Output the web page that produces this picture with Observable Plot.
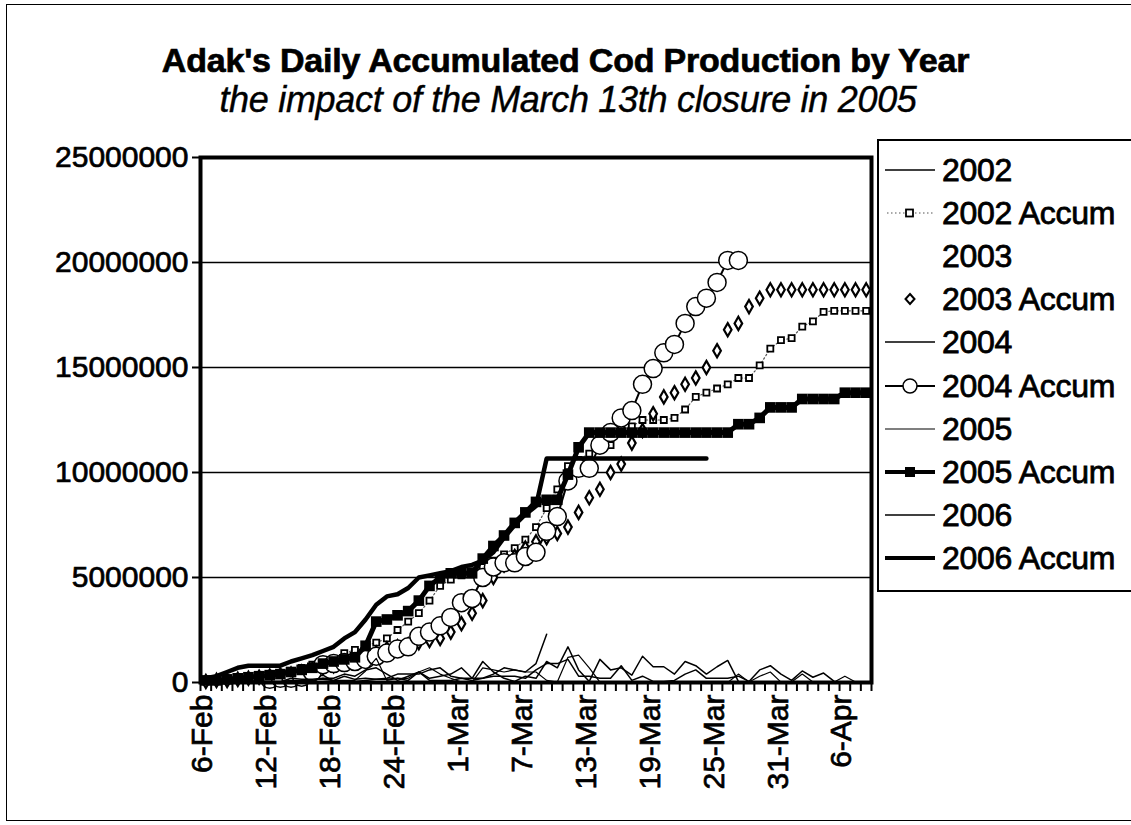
<!DOCTYPE html>
<html><head><meta charset="utf-8">
<script src="https://cdn.jsdelivr.net/npm/d3@7"></script>
<script src="https://cdn.jsdelivr.net/npm/@observablehq/plot@0.6"></script>
<style>
body{margin:0;background:#fff;font-family:"Liberation Sans",Arial,sans-serif;color:#000;}
#page{position:relative;width:1131px;height:825px;overflow:hidden;background:#fff;}
#border{position:absolute;left:6px;top:4px;width:1140px;height:817px;border:1.5px solid #000;box-sizing:border-box;pointer-events:none;}
#header{position:relative;height:140px;}
#title{position:absolute;left:0;width:1131px;top:40px;text-align:center;font-weight:bold;font-size:34px;line-height:40px;white-space:nowrap;-webkit-text-stroke:0.7px #000;letter-spacing:-0.2px;}
#subtitle{position:absolute;left:0;width:1136px;top:80px;text-align:center;font-style:italic;font-size:36px;line-height:40px;white-space:nowrap;-webkit-text-stroke:0.4px #000;letter-spacing:-0.3px;}
#chart svg{display:block;}
#chart svg text{stroke:#000;stroke-width:0.7px;}
#legend{position:absolute;left:877px;top:139px;width:270px;height:453px;border:2px solid #000;box-sizing:border-box;background:#fff;}
.item{position:absolute;left:0;height:40px;width:270px;}
.item svg{position:absolute;left:6px;top:10px;}
.item span{position:absolute;left:63px;top:0;font-size:32px;line-height:40px;white-space:nowrap;-webkit-text-stroke:0.8px #000;letter-spacing:-0.3px;}
</style>
</head><body>
<div id="page">
  <div id="header">
    <div id="title">Adak's Daily Accumulated Cod Production by Year</div>
    <div id="subtitle">the impact of the March 13th closure in 2005</div>
  </div>
  <div id="chart"></div>
  <div id="legend"></div>
  <div id="border"></div>
</div>
<script>
// Category labels (one category per day, 6-Feb ... 8-Apr); labels every 6 days
const xTickIndex = [0, 6, 12, 18, 24, 30, 36, 42, 48, 54, 60];
const xTickLabels = ["6-Feb","12-Feb","18-Feb","24-Feb","1-Mar","7-Mar","13-Mar","19-Mar","25-Mar","31-Mar","6-Apr"];
const nDays = 63;
const yTicks = [0, 5000000, 10000000, 15000000, 20000000, 25000000];
const gridValues = [5000000, 10000000, 15000000, 20000000];

// values in millions of pounds, index = day from 6-Feb
const acc2002 = [0.05,0.1,0.15,0.2,0.25,0.3,0.35,0.45,0.55,0.7,
 0.85,1.0,1.1,1.4,1.55,1.75,1.9,2.1,2.5,2.9,
 3.3,3.9,4.6,4.9,5.1,5.3,5.5,5.8,6.1,6.4,
 6.8,7.4,8.3,9.2,10.3,10.6,10.9,11.1,11.3,12.1,
 12.2,12.5,12.5,12.5,12.6,13.0,13.6,13.8,14.0,14.2,
 14.5,14.5,15.1,15.9,16.3,16.4,16.95,17.2,17.65,17.7,
 17.7,17.7,17.7];
const acc2003 = [0.05,0.1,0.1,0.15,0.2,0.25,0.3,0.35,0.4,0.5,
 0.6,0.7,0.8,0.9,1.0,1.2,1.4,1.6,1.7,1.8,
 1.9,2.0,2.1,2.4,2.8,3.3,3.9,5.0,5.6,6.0,
 6.4,6.7,6.9,7.1,7.4,8.1,8.8,9.2,10.0,10.4,
 11.4,12.0,12.8,13.6,13.8,14.2,14.5,15.0,15.8,16.8,
 17.1,17.9,18.3,18.7,18.7,18.7,18.7,18.7,18.7,18.7,
 18.7,18.7,18.7];
const acc2004 = [null,null,null,null,null,null,0.15,0.2,0.2,0.25,
 0.5,0.85,0.9,0.95,1.0,1.1,1.25,1.4,1.6,1.7,
 2.2,2.4,2.7,3.1,3.8,4.0,5.0,5.5,5.7,5.7,
 6.0,6.2,7.2,7.9,9.6,10.2,10.2,11.3,11.9,12.6,
 12.95,14.2,14.95,15.7,16.1,17.1,17.9,18.3,19.05,20.1,
 20.1];
const acc2005 = [0.1,0.1,0.15,0.2,0.25,0.3,0.35,0.4,0.5,0.6,
 0.7,0.9,1.0,1.1,1.2,1.75,2.9,3.0,3.2,3.4,
 3.9,4.6,5.0,5.2,5.2,5.2,5.9,6.5,7.0,7.6,
 8.1,8.6,8.7,8.7,9.9,11.2,11.9,11.9,11.9,11.9,
 11.9,11.9,11.9,11.9,11.9,11.9,11.9,11.9,11.9,11.9,
 12.3,12.3,12.6,13.1,13.1,13.1,13.5,13.5,13.5,13.5,
 13.8,13.8,13.8];
const acc2006 = [0.2,0.3,0.5,0.7,0.8,0.8,0.8,0.8,1.0,1.15,
 1.3,1.5,1.7,2.1,2.4,3.0,3.7,4.1,4.2,4.5,
 5.0,5.1,5.2,5.3,5.5,5.6,5.8,6.2,6.9,7.5,
 8.0,8.4,10.67,10.67,10.67,10.67,10.67,10.67,10.67,10.67,
 10.67,10.67,10.67,10.67,10.67,10.67,10.67,10.67];
const daily2002 = [0.05,0.05,0.05,0.05,0.05,0.05,0.05,0.1,0.1,0.15,
 0.15,0.15,0.1,0.3,0.15,0.2,0.15,0.2,0.4,0.4,
 0.4,0.6,0.7,0.3,0.2,0.2,0.2,0.3,0.3,0.3,
 0.2,0.6,0.9,0.9,1.1,0.3,0.3,0.2,0.2,0.8,
 0.1,0.3,0.05,0.05,0.1,0.4,0.6,0.2,0.2,0.2,
 0.3,0.05,0.6,0.8,0.4,0.1,0.55,0.25,0.45,0.05];
const daily2004 = [null,null,null,null,null,null,0.1,0.05,0.05,0.05,
 0.25,0.35,0.05,0.05,0.05,0.1,0.15,0.15,0.2,0.1,
 0.5,0.2,0.3,0.4,0.7,0.2,1.0,0.5,0.2,0.05,
 0.3,0.2,1.0,0.7,1.7,0.6,0.05,1.1,0.6,0.7,
 0.35,1.25,0.75,0.75,0.4,1.0,0.8,0.4,0.75,1.05,
 0.05];
const daily2005 = [0.1,0.02,0.05,0.05,0.05,0.05,0.05,0.05,0.1,0.1,
 0.1,0.2,0.1,0.1,0.1,0.55,1.15,0.1,0.2,0.2,
 0.5,0.7,0.4,0.2,0.02,0.02,0.7,0.6,0.5,0.6,
 0.5,0.5,0.1,0.02,1.2,1.3,0.7,0.02,0,0,
 0,0,0,0,0,0,0,0,0,0,
 0.4,0.02,0.3,0.5,0.02,0.02,0.4,0.02,0.02,0.02,
 0.3,0.02,0.02];
const daily2006 = [0.2,0.1,0.2,0.2,0.1,0.02,0.02,0.02,0.2,0.15,
 0.15,0.2,0.2,0.4,0.3,0.6,0.7,0.4,0.1,0.3,
 0.5,0.1,0.1,0.1,0.2,0.1,0.2,0.4,0.7,0.6,
 0.5,0.9,2.3];

const legendLabels = ["2002","2002 Accum","2003","2003 Accum","2004","2004 Accum","2005","2005 Accum","2006","2006 Accum"];

const M = 1000000;
const rows = arr => arr.map((v, i) => ({i, v: v == null ? NaN : v * M})).filter(d => !isNaN(d.v));
const minorTicks = d3.range(nDays + 1).map(k => k - 0.5);
const labelOf = new Map(xTickIndex.map((d, k) => [d, xTickLabels[k]]));
const L = (data, o) => Plot.line(rows(data), {x: "i", y: "v", stroke: "#000", ...o});

const chart = Plot.plot({
  width: 1131, height: 685,
  marginTop: 17, marginBottom: 143, marginLeft: 200, marginRight: 260,
  x: {type: "linear", domain: [-0.5, nDays - 0.5]},
  y: {domain: [0, 25000000]},
  style: {fontFamily: "'Liberation Sans', Arial, sans-serif", fontSize: "30px", color: "#000", background: "transparent", overflow: "visible"},
  marks: [
    Plot.ruleY(gridValues, {stroke: "#000", strokeWidth: 1.4}),
    L(daily2002, {strokeWidth: 1.5}),
    L(acc2002, {stroke: "#555", strokeWidth: 1.2, strokeDasharray: "1.5 2.5"}),
    Plot.dot(rows(acc2002), {x: "i", y: "v", symbol: "square", r: 3.4, fill: "#fff", stroke: "#000", strokeWidth: 1.8}),
    Plot.dot(rows(acc2003), {x: "i", y: "v", symbol: "diamond", r: 4.0, fill: "#fff", stroke: "#000", strokeWidth: 2.2}),
    L(daily2004, {strokeWidth: 1.5}),
    L(acc2004, {strokeWidth: 2}),
    Plot.dot(rows(acc2004), {x: "i", y: "v", r: 9, fill: "#fff", stroke: "#000", strokeWidth: 1.5}),
    L(daily2005, {strokeWidth: 1.2}),
    L(acc2005, {strokeWidth: 5}),
    Plot.dot(rows(acc2005), {x: "i", y: "v", symbol: "square", r: 6, fill: "#000"}),
    L(daily2006, {strokeWidth: 1.5}),
    L(acc2006, {strokeWidth: 4.5}),
    Plot.frame({stroke: "#000", strokeWidth: 4}),
    Plot.axisY({ticks: yTicks, tickFormat: d => String(d), tickSize: 8, tickPadding: 4, strokeWidth: 2, fontSize: 30, label: null}),
    Plot.axisX({ticks: minorTicks, tickFormat: () => "", tickSize: 9, strokeWidth: 2, label: null}),
    Plot.axisX({ticks: xTickIndex, tickFormat: d => labelOf.get(d), tickSize: 0, tickPadding: 12, tickRotate: -90, fontSize: 30, dx: -3, label: null})
  ]
});
document.getElementById("chart").appendChild(chart);

// legend
const swatch = {
  "2002": '<line x1="0" y1="10" x2="50" y2="10" stroke="#000" stroke-width="1.5"/>',
  "2002 Accum": '<line x1="2" y1="10" x2="48" y2="10" stroke="#555" stroke-width="1.2" stroke-dasharray="1.5 2.5"/><rect x="21" y="6.5" width="7" height="7" fill="#fff" stroke="#000" stroke-width="1.8"/>',
  "2003": '',
  "2003 Accum": '<path d="M25,5 L29.5,10 L25,15 L20.5,10 Z" fill="#fff" stroke="#000" stroke-width="2"/>',
  "2004": '<line x1="0" y1="10" x2="50" y2="10" stroke="#000" stroke-width="1.5"/>',
  "2004 Accum": '<line x1="0" y1="10" x2="50" y2="10" stroke="#000" stroke-width="2"/><circle cx="25" cy="10" r="7" fill="#fff" stroke="#000" stroke-width="1.5"/>',
  "2005": '<line x1="0" y1="10" x2="50" y2="10" stroke="#000" stroke-width="1.2"/>',
  "2005 Accum": '<line x1="0" y1="10" x2="50" y2="10" stroke="#000" stroke-width="4"/><rect x="20" y="5" width="10" height="10" fill="#000"/>',
  "2006": '<line x1="0" y1="10" x2="50" y2="10" stroke="#000" stroke-width="1.5"/>',
  "2006 Accum": '<line x1="0" y1="10" x2="50" y2="10" stroke="#000" stroke-width="4"/>'
};
const leg = document.getElementById("legend");
legendLabels.forEach((name, k) => {
  const div = document.createElement("div");
  div.className = "item";
  div.style.top = (9 + k * 43.1) + "px";
  div.innerHTML = `<svg width="52" height="20" viewBox="0 0 52 20">${swatch[name]}</svg><span>${name}</span>`;
  leg.appendChild(div);
});
</script>
</body></html>
